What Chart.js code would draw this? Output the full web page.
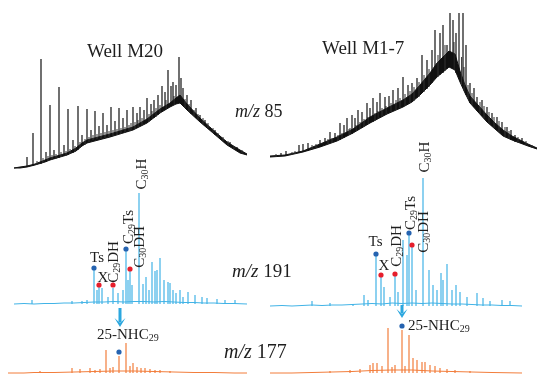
<!DOCTYPE html>
<html>
<head>
<meta charset="utf-8">
<script src="https://cdn.jsdelivr.net/npm/chart.js@4.4.1/dist/chart.umd.min.js"></script>
<style>
  html, body { margin: 0; padding: 0; background: #fff; }
  #wrap { position: relative; width: 539px; height: 375px; }
</style>
</head>
<body>
<div id="wrap"><canvas id="chart" width="539" height="375"></canvas></div>
<script>
// --- DATA (retention time units, relative abundance) ---
// m/z 85, Well M20: UCM hump (lower / upper edge of noise band), n-alkane spikes and minor noise peaks [t, base, top]
const m20Hump85Low = [[0,0],[3,0],[6.5,1],[10.5,3],[15.5,6],[18,8],[26.5,13],[31,17],[34,22],[36.5,25],[48,31],[59.5,38],[66.5,45],[73,55],[78,61],[81,64],[83,65],[86.5,58],[93,46],[99.5,35],[106.5,23],[113,15],[116.5,13]];
const m20Hump85High = [[0,0],[3,1],[6.5,2],[10.5,4],[15.5,8],[18,10],[26.5,15],[31,20],[34,25],[36.5,28],[48,34],[59.5,41],[66.5,49],[73,59],[78,65],[81,70],[83,73],[86.5,64],[93,50],[99.5,38],[106.5,26],[113,18],[116.5,14]];
const m20Peaks85 = [[6.5,1,11],[9.5,2,35],[13.5,4,109],[16,6,16],[18,8,63],[20,9,18],[22.5,10,81],[25,12,23],[27,13,59],[29.5,15,28],[32,18,62],[34,22,33],[36.5,25,59],[38.5,27,38],[40.5,28,57],[42.5,29,42],[44.5,30,55],[46.5,31,43],[48.5,31,61],[50.5,33,47],[52.5,34,60],[54.5,35,50],[56.5,36,58],[59.5,38,61],[61.5,40,55],[63,42,61],[65,44,58],[66.5,45,70],[68.5,48,64],[70,50,68],[72,53,73],[74,56,82],[75.5,58,76],[77,60,98],[78.5,62,82],[79.5,63,86],[81,64,83],[82.5,65,111],[83.5,64,90],[84.5,62,80],[86.5,58,73],[88.5,54,68],[91,50,60],[93,46,53],[95.5,42,48],[98,38,41],[100.5,33,38],[103,29,31],[105.5,25,28],[108,21,26],[111.5,17,21]];
const m20Noise85 = [[11.5,3,7],[14.5,5,10],[17,7,12],[19,8,13],[21,9,14],[23.5,11,16],[26,12,17],[28,14,19],[30.5,16,22],[33,20,26],[35.5,23,29],[37.5,26,31],[39.5,28,33],[41.5,29,34],[43.5,29,35],[45.5,30,36],[47.5,31,37],[49.5,32,38],[51.5,33,39],[53.5,34,40],[55.5,35,41],[57.5,37,43],[58.5,37,45],[60.5,39,46],[62,41,48],[64,43,50],[67.5,46,54],[69,49,57],[71,51,60],[73,55,63],[76,59,68],[80,63,72],[85.5,60,69],[87.5,56,64],[90,52,58],[92,48,54],[94.5,44,50],[97,40,45],[99.5,35,40],[102,31,35],[104.5,27,31],[107,23,27],[110,19,22],[114,15,18]];

// m/z 85, Well M1-7
const m17Hump85Low = [[-1,0],[6.5,1],[15.5,5],[24,10],[32.5,16],[40.5,24],[49,34],[57.5,43],[65.5,50],[70,55],[74,62],[79,72],[82.5,80],[85.5,85],[88.5,90],[91.5,87],[94,75],[96.5,64],[99,54],[103,45],[107.5,35],[111.5,28],[115.5,21],[120,17],[124,14],[128,11],[132.5,8]];
const m17Hump85High = [[-1,1],[6.5,2],[15.5,6],[24,13],[32.5,20],[40.5,28],[49,40],[57.5,49],[65.5,57],[70,63],[74,72],[79,84],[82.5,94],[85.5,100],[88.5,106],[91.5,103],[94,86],[96.5,72],[99,61],[103,52],[107.5,42],[111.5,34],[115.5,27],[120,21],[124,17],[128,13],[132.5,9]];
const m17Peaks85 = [[4.5,1,4],[7,1,6],[13.5,4,12],[15.5,5,13],[18,6,14],[24,10,17],[26.5,12,19],[29,14,25],[31.5,15,24],[34,17,34],[36,19,32],[37.5,21,39],[40,23,42],[41.5,25,39],[43,27,47],[45,29,45],[47.5,32,54],[49,34,49],[50.5,35,59],[52.5,38,55],[54,40,64],[56.5,42,60],[58.5,44,61],[60.5,46,67],[63,48,69],[65.5,50,80],[68,53,72],[70,55,74],[72.5,59,79],[75,64,102],[77.5,68,97],[80,74,107],[81.5,78,127],[84,82,124],[85.5,84,132],[87.5,88,112],[89,90,144],[90.5,88,137],[92,84,124],[93.5,78,144],[95.5,70,144],[97,62,112],[99,54,74],[101,50,69],[102.5,46,60],[105,41,57],[107.5,35,50],[110,31,44],[112.5,27,40],[115,22,35],[117.5,19,30],[119.5,17,27],[121.5,15,22],[125,13,19]];
const m17Noise85 = [[2,0,3],[10,2,5],[11.5,3,6],[20,8,12],[22,9,13],[28,13,18],[30,14,19],[33,16,22],[35,18,24],[38.5,22,28],[39,22,29],[42,26,32],[44,28,35],[46,30,38],[48,33,40],[51.5,36,44],[53,38,46],[55,41,49],[57,42,51],[59.5,45,54],[62,47,57],[64,49,59],[66.5,51,63],[69,54,66],[71,56,70],[73.5,60,75],[76,65,82],[78.5,70,88],[83,80,102],[86.5,86,112],[91,88,115],[94.8,72,100],[96,66,90],[98,58,72],[100,52,64],[104,43,55],[106,39,51],[108.5,33,45],[111,29,40],[113.5,25,36],[116.5,20,30],[118.5,18,26],[123,14,20],[127,12,16],[130,9,12]];

// m/z 191 (terpanes)
const m20Base191 = [[0,0],[5,0.5],[10,0],[15,0.5],[20,0.5],[25,1],[30,1],[35,1.5],[40,2],[45,2],[50,2.5],[55,2],[60,2.5],[65,2.5],[70,2],[75,2.5],[80,2],[85,1.5],[90,1.5],[95,1],[100,1],[105,0.5],[110,0.5],[116.5,0]];
const m20Peaks191 = [[9,4],[29,3],[34,3],[36.5,4],[40,34],[41.5,14],[42.5,17],[44,16],[47,7],[49.5,16],[52,11],[54.5,14],[56,53],[57,24],[58,33],[59,19],[62.5,111],[64.5,20],[66,27],[67.5,14],[69,42],[70.5,33],[71.5,34],[73,46],[75,24],[77,22],[78,21],[79.5,14],[81,11],[83,14],[84.5,7],[87,12],[90.5,9],[94,7],[96.5,6],[101.5,5],[105.5,4],[110.5,4]];
const m20Blue191 = [[40,36],[56,55]];
const m20Red191 = [[42.5,19],[49.5,19],[58,35]];

const m17Base191 = [[-1,0],[5,0.5],[10,0],[15,0.5],[20,1],[25,0.5],[30,1],[35,1],[40,1.5],[45,2],[50,2.5],[55,2],[60,3],[65,2.5],[70,3],[75,2.5],[80,3],[85,2.5],[90,2],[95,2],[100,1.5],[105,1],[110,1],[115,0.5],[120,0.5],[125,0]];
const m17Peaks191 = [[20,5],[29,3],[40.5,2],[46,11],[48,6],[52,50],[54.5,29],[56,19],[59,9],[61.5,30],[63,14],[65.5,66],[67.5,51],[68.5,71],[70,59],[72,16],[75.5,128],[78.5,36],[80.5,21],[82.5,16],[84.5,33],[85.5,26],[87.5,42],[90,16],[92,21],[94,14],[97.5,9],[102.5,13],[105.5,8],[109,5],[115,6],[119,5]];
const m17Blue191 = [[52,52],[68.5,73]];
const m17Red191 = [[54.5,31],[61.5,32],[70,61]];

// m/z 177 (25-norhopanes)
const m20Base177 = [[-3,0],[5,0],[10,0.5],[20,0.5],[30,1],[40,1.5],[50,2],[60,2],[70,1.5],[80,1],[90,0.5],[100,0.5],[110,0],[116.5,0]];
const m20Peaks177 = [[13,2],[29,5],[33,4],[38,5],[40.5,3],[43,4],[46,23],[48,5],[49.5,6],[52.5,17],[56,30],[58,7],[59.5,10],[61.5,6],[63.5,5],[65.5,5],[68,4],[70.5,3],[73,3],[78,2]];
const m20Blue177 = [[52.5,21]];

const m17Base177 = [[-1,0],[10,0],[20,0.5],[30,1],[40,1.5],[50,2.5],[60,3],[70,3],[80,2],[90,1.5],[100,1],[110,0.5],[125,0]];
const m17Peaks177 = [[29,2],[39,3],[44,4],[49,8],[50.5,10],[52.5,10],[55,7],[58,45],[60,6],[61.5,8],[65,43],[66.5,7],[68.5,38],[70.5,15],[72.5,13],[75,11],[76.5,11],[79,8],[81.5,7],[84,5],[87.5,4],[91.5,3],[99,2]];
const m17Blue177 = [[65,47]];

// --- LAYOUT ---
const CW = 539, CH = 375;
const SERIF = '"Liberation Serif", "Times New Roman", serif';
const TEXT = '#1e1e1e';
const BLACK = '#111111', BLUE = '#41b3e6', ORANGE = '#f27d3b', DOT_BLUE = '#2563b0', DOT_RED = '#e61e2c', ARROW = '#2ba7df';

// each panel: where t = 0 sits and px per time unit; each trace: baseline pixel and px per abundance unit
function xAxis(px0, k) { const min = -px0 / k; return { type: 'linear', display: false, offset: false, bounds: 'data', min, max: min + CW / k }; }
function yAxis(base, k) { const min = -(CH - base) / k; return { type: 'linear', display: false, bounds: 'data', min, max: min + CH / k }; }

const scales = {
  xL: xAxis(14, 2), xR: xAxis(272, 2),
  yL85: yAxis(168, 1), yR85: yAxis(157, 1),
  yL191: yAxis(304, 1), yR191: yAxis(306, 1),
  yL177: yAxis(373, 1), yR177: yAxis(373, 1)
};

const xy = arr => arr.map(p => ({ x: p[0], y: p[1] }));

function line(data, xa, ya, color, extra) {
  return Object.assign({ type: 'line', data: xy(data), xAxisID: xa, yAxisID: ya, borderColor: color,
    borderWidth: 1, pointRadius: 0, fill: false, tension: 0, order: 3 }, extra || {});
}
function spikes(data, xa, ya, color, width) {
  return { type: 'bar', data: data.map(p => ({ x: p[0], y: p.length > 2 ? [p[1], p[2]] : p[1] })),
    xAxisID: xa, yAxisID: ya, backgroundColor: color, borderWidth: 0, grouped: false,
    barPercentage: 4, categoryPercentage: 1, maxBarThickness: width || 1.2, order: 2 };
}
function dots(data, xa, ya, color) {
  return { type: 'scatter', data: xy(data), xAxisID: xa, yAxisID: ya, pointRadius: 2.6,
    pointBackgroundColor: color, pointBorderWidth: 0, showLine: false, order: 0 };
}

const datasets = [
  line(m20Hump85Low, 'xL', 'yL85', BLACK),
  line(m20Hump85High, 'xL', 'yL85', BLACK, { fill: '-1', backgroundColor: BLACK }),
  spikes(m20Peaks85, 'xL', 'yL85', BLACK),
  spikes(m20Noise85, 'xL', 'yL85', '#333', 1),
  line(m17Hump85Low, 'xR', 'yR85', BLACK),
  line(m17Hump85High, 'xR', 'yR85', BLACK, { fill: '-1', backgroundColor: BLACK }),
  spikes(m17Peaks85, 'xR', 'yR85', BLACK),
  spikes(m17Noise85, 'xR', 'yR85', '#333', 1),

  line(m20Base191, 'xL', 'yL191', BLUE),
  spikes(m20Peaks191, 'xL', 'yL191', BLUE),
  dots(m20Blue191, 'xL', 'yL191', DOT_BLUE),
  dots(m20Red191, 'xL', 'yL191', DOT_RED),
  line(m17Base191, 'xR', 'yR191', BLUE),
  spikes(m17Peaks191, 'xR', 'yR191', BLUE),
  dots(m17Blue191, 'xR', 'yR191', DOT_BLUE),
  dots(m17Red191, 'xR', 'yR191', DOT_RED),

  line(m20Base177, 'xL', 'yL177', ORANGE),
  spikes(m20Peaks177, 'xL', 'yL177', ORANGE),
  dots(m20Blue177, 'xL', 'yL177', DOT_BLUE),
  line(m17Base177, 'xR', 'yR177', ORANGE),
  spikes(m17Peaks177, 'xR', 'yR177', ORANGE),
  dots(m17Blue177, 'xR', 'yR177', DOT_BLUE)
];

// peak labels, anchored in data units of their trace; parts = [text, subscript, italic]
const peakLabels = [
  { xa: 'xL', ya: 'yL191', t: 41.5, v: 47, parts: [['Ts']] },
  { xa: 'xL', ya: 'yL191', t: 44.5, v: 27, parts: [['X']] },
  { xa: 'xL', ya: 'yL191', t: 49.5, v: 42, rot: true, parts: [['C'], ['29', 1], ['DH']] },
  { xa: 'xL', ya: 'yL191', t: 57, v: 77, rot: true, parts: [['C'], ['29', 1], ['Ts']] },
  { xa: 'xL', ya: 'yL191', t: 62.5, v: 57, rot: true, parts: [['C'], ['30', 1], ['DH']] },
  { xa: 'xL', ya: 'yL191', t: 63.5, v: 130, rot: true, parts: [['C'], ['30', 1], ['H']] },
  { xa: 'xR', ya: 'yR191', t: 51.75, v: 64.5, parts: [['Ts']] },
  { xa: 'xR', ya: 'yR191', t: 56, v: 41, parts: [['X']] },
  { xa: 'xR', ya: 'yR191', t: 62, v: 60, rot: true, parts: [['C'], ['29', 1], ['DH']] },
  { xa: 'xR', ya: 'yR191', t: 69, v: 93, rot: true, parts: [['C'], ['29', 1], ['Ts']] },
  { xa: 'xR', ya: 'yR191', t: 75.5, v: 74, rot: true, parts: [['C'], ['30', 1], ['DH']] },
  { xa: 'xR', ya: 'yR191', t: 76, v: 149, rot: true, parts: [['C'], ['30', 1], ['H']] },
  { xa: 'xL', ya: 'yL177', t: 41.5, v: 39, align: 'left', parts: [['25-NHC'], ['29', 1]] },
  { xa: 'xR', ya: 'yR177', t: 68, v: 48, align: 'left', parts: [['25-NHC'], ['29', 1]] }
];

// arrows from the m/z 191 trace down to the m/z 177 trace
const arrows = [
  { xa: 'xL', ya: 'yL191', t: 53, from: -4, to: -23 },
  { xa: 'xR', ya: 'yR191', t: 65, from: 1, to: -12 }
];

// fixed headings (pixel positions: left edge, vertical centre)
const headings = [
  { x: 87, y: 51, size: 19, parts: [['Well M20']] },
  { x: 322, y: 48, size: 19, parts: [['Well M1-7']] },
  { x: 235, y: 111, size: 18, parts: [['m/z', 0, 1], [' 85']] },
  { x: 232, y: 271, size: 19, parts: [['m/z', 0, 1], [' 191']] },
  { x: 224, y: 351, size: 20, parts: [['m/z', 0, 1], [' 177']] }
];

function drawRich(ctx, parts, x, y, size, rot, align) {
  ctx.save();
  ctx.translate(x, y);
  if (rot) ctx.rotate(-Math.PI / 2);
  const subSize = Math.round(size * 0.68);
  const fontOf = p => (p[2] ? 'italic ' : '') + (p[1] ? subSize : size) + 'px ' + SERIF;
  let w = 0;
  parts.forEach(p => { ctx.font = fontOf(p); w += ctx.measureText(p[0]).width; });
  let cx = align === 'left' ? 0 : -w / 2;
  const base = size * 0.33;
  ctx.textAlign = 'left';
  ctx.textBaseline = 'alphabetic';
  parts.forEach(p => {
    ctx.font = fontOf(p);
    ctx.fillText(p[0], cx, base + (p[1] ? size * 0.16 : 0));
    cx += ctx.measureText(p[0]).width;
  });
  ctx.restore();
}

const annotate = {
  id: 'annotate',
  afterDatasetsDraw(chart) {
    const ctx = chart.ctx;
    ctx.save();
    ctx.fillStyle = TEXT;
    peakLabels.forEach(l => {
      const px = chart.scales[l.xa].getPixelForValue(l.t);
      const py = chart.scales[l.ya].getPixelForValue(l.v);
      drawRich(ctx, l.parts, px, py, 15, l.rot, l.align);
    });
    headings.forEach(h => drawRich(ctx, h.parts, h.x, h.y, h.size, false, 'left'));

    ctx.fillStyle = ARROW;
    arrows.forEach(a => {
      const x = chart.scales[a.xa].getPixelForValue(a.t);
      const y0 = chart.scales[a.ya].getPixelForValue(a.from);
      const y1 = chart.scales[a.ya].getPixelForValue(a.to);
      const hw = 5.5, hl = 9;
      ctx.fillRect(x - 1.5, y0, 3, y1 - y0 - hl * 0.5);
      ctx.beginPath();
      ctx.moveTo(x - hw, y1 - hl);
      ctx.lineTo(x, y1 - hl * 0.45);
      ctx.lineTo(x + hw, y1 - hl);
      ctx.lineTo(x, y1);
      ctx.closePath();
      ctx.fill();
    });
    ctx.restore();
  }
};

new Chart(document.getElementById('chart'), {
  type: 'line',
  data: { datasets },
  options: {
    responsive: false,
    animation: false,
    devicePixelRatio: 1,
    layout: { padding: 0, autoPadding: false },
    plugins: { legend: { display: false }, tooltip: { enabled: false } },
    scales
  },
  plugins: [annotate]
});
</script>
</body>
</html>
